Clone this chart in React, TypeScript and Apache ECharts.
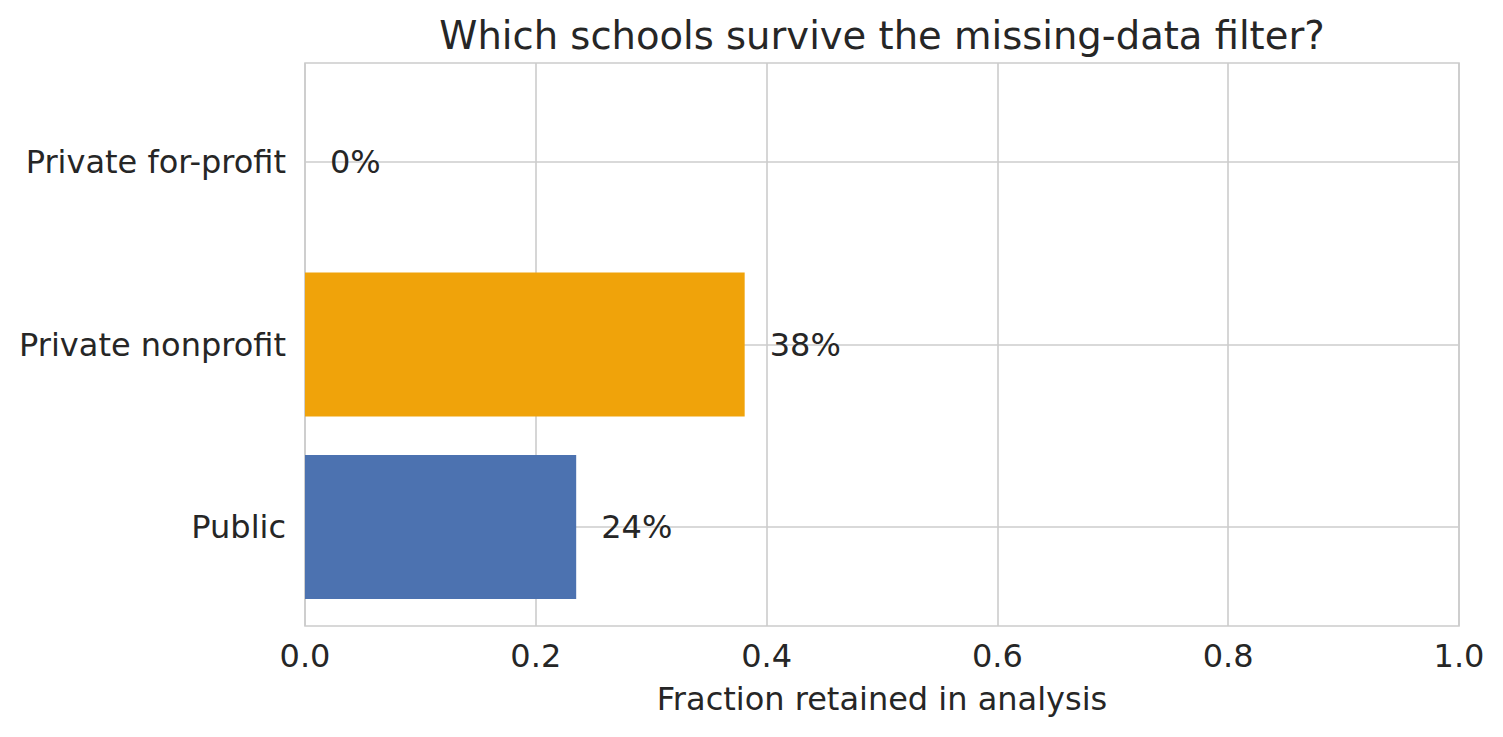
import React, { useEffect, useRef } from "react";
import * as echarts from "echarts";

const categories = ["Public", "Private nonprofit", "Private for-profit"];
const retained = [0.235, 0.381, 0.0];
const barColors = ["#4c72b0", "#f0a30a", "#55a868"];
const xTicks = [0, 0.2, 0.4, 0.6, 0.8, 1.0];

const TEXT = "#262626";
const GRID = "#cccccc";
const FONT = "DejaVu Sans";
const FS = 32;

export default function App() {
  const ref = useRef<HTMLDivElement>(null);
  useEffect(() => {
    if (!ref.current) return;
    const chart = echarts.init(ref.current, undefined, { renderer: "svg" });
    chart.setOption({
      animation: false,
      backgroundColor: "#ffffff",
      textStyle: { fontFamily: FONT },
      title: {
        text: "Which schools survive the missing-data filter?",
        left: 877,
        top: 11,
        textAlign: "center",
        textStyle: { fontFamily: FONT, fontSize: 38.5, fontWeight: "normal", color: TEXT },
      },
      grid: [
        { left: 305, top: 63, width: 1154, height: 563, show: true, borderColor: GRID, borderWidth: 1.6, backgroundColor: "transparent" },
        { left: 305, top: 162, width: 1154, height: 365 },
      ],
      xAxis: [
        {
          gridIndex: 0,
          type: "value",
          min: xTicks[0],
          max: xTicks[xTicks.length - 1],
          interval: 0.2,
          axisLine: { show: false },
          axisTick: { show: false },
          axisLabel: {
            fontFamily: FONT,
            fontSize: FS,
            color: TEXT,
            margin: 14,
            formatter: (v: number) => v.toFixed(1),
          },
          splitLine: { show: true, lineStyle: { color: GRID, width: 1.6 } },
          name: "Fraction retained in analysis",
          nameLocation: "middle",
          nameGap: 57,
          nameTextStyle: { fontFamily: FONT, fontSize: FS, color: TEXT },
        },
        {
          gridIndex: 1,
          type: "value",
          min: 0,
          max: 1,
          show: false,
          splitLine: { show: false },
        },
      ],
      yAxis: [
        {
          gridIndex: 0,
          type: "value",
          min: 0,
          max: 1,
          show: false,
          splitLine: { show: false },
        },
        {
          gridIndex: 1,
          type: "category",
          data: categories,
          boundaryGap: false,
          axisLine: { show: false },
          axisTick: { show: false },
          axisLabel: { fontFamily: FONT, fontSize: FS, color: TEXT, margin: 19 },
          splitLine: { show: true, lineStyle: { color: GRID, width: 1.6 } },
        },
      ],
      series: [
        {
          type: "bar",
          xAxisIndex: 1,
          yAxisIndex: 1,
          clip: false,
          barWidth: 144,
          data: retained.map((v, i) => ({ value: v, itemStyle: { color: barColors[i] } })),
          label: {
            show: true,
            position: "right",
            distance: 25,
            fontFamily: FONT,
            fontSize: FS,
            color: TEXT,
            formatter: (p: any) => Math.round(p.value * 100) + "%",
          },
        },
      ],
    });
    return () => chart.dispose();
  }, []);
  return (
    <div
      ref={ref}
      style={{ position: "fixed", left: 0, top: 0, width: 1503, height: 737 }}
    />
  );
}
